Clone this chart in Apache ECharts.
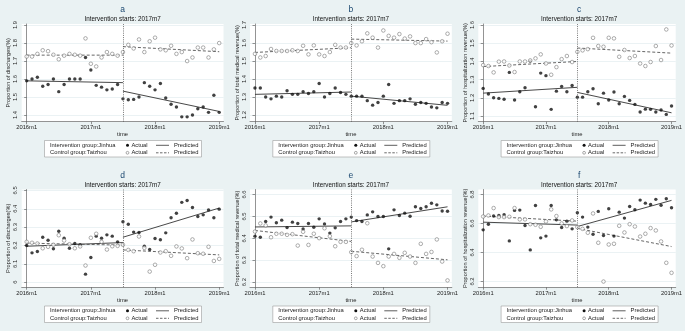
<!DOCTYPE html>
<html>
<head>
<meta charset="utf-8">
<script src="https://cdn.jsdelivr.net/npm/echarts@6/dist/echarts.min.js"></script>
<style>
    html, body { margin: 0; padding: 0; background: #eaf2f3; }
    #chart { width: 685px; height: 331px; }
</style>
</head>
<body>
<div id="chart"></div>
<script>
// months since 2016m1, tick labels
const xTickPos = [0, 12, 24, 36];
const xTickLabels = ['2016m1', '2017m1', '2018m1', '2019m1'];
const interventionMonth = 18;
// pre start, pre end, post start, post end
const predMonths = [0, 18, 18, 36];

// a: proportion of discharges
const aJinhua = [1.59, 1.60, 1.61, 1.56, 1.57, 1.60, 1.53, 1.57, 1.60, 1.60, 1.60, 1.72, 1.65, 1.565, 1.555, 1.54, 1.545, 1.57,
    1.49, 1.485, 1.487, 1.50, 1.58, 1.56, 1.54, 1.575, 1.495, 1.46, 1.445, 1.39, 1.39, 1.40, 1.435, 1.445, 1.415, 1.51, 1.415];
const aTaizhou = [1.725, 1.725, 1.74, 1.76, 1.755, 1.735, 1.71, 1.73, 1.74, 1.735, 1.73, 1.826, 1.685, 1.67, 1.72, 1.75, 1.74, 1.73,
    1.75, 1.79, 1.77, 1.82, 1.75, 1.81, 1.83, 1.765, 1.76, 1.785, 1.74, 1.75, 1.70, 1.72, 1.775, 1.775, 1.72, 1.765, 1.80];
const aPredJinhua = [1.59, 1.58, 1.533, 1.42];
const aPredTaizhou = [1.733, 1.733, 1.78, 1.752];

// b: proportion of total medical revenue
const bJinhua = [1.35, 1.35, 1.30, 1.29, 1.305, 1.30, 1.335, 1.315, 1.315, 1.33, 1.32, 1.33, 1.375, 1.30, 1.32, 1.35, 1.325, 1.315,
    1.305, 1.305, 1.305, 1.28, 1.255, 1.27, 1.305, 1.37, 1.265, 1.28, 1.28, 1.29, 1.26, 1.27, 1.265, 1.245, 1.24, 1.27, 1.265];
const bTaizhou = [1.54, 1.52, 1.528, 1.567, 1.556, 1.556, 1.556, 1.56, 1.556, 1.585, 1.537, 1.587, 1.537, 1.528, 1.55, 1.59, 1.575, 1.575,
    1.60, 1.587, 1.61, 1.654, 1.63, 1.575, 1.67, 1.64, 1.63, 1.65, 1.625, 1.637, 1.60, 1.60, 1.622, 1.605, 1.548, 1.61, 1.652];
const bPredJinhua = [1.315, 1.328, 1.305, 1.254];
const bPredTaizhou = [1.548, 1.574, 1.622, 1.611];

// c: proportion of hospitalization revenue
const cJinhua = [1.252, 1.221, 1.201, 1.197, 1.192, 1.340, 1.188, 1.234, 1.256, 1.402, 1.151, 1.336, 1.322, 1.137, 1.237, 1.263, 1.234, 1.268,
    1.204, 1.204, 1.234, 1.250, 1.168, 1.226, 1.188, 1.232, 1.168, 1.208, 1.186, 1.164, 1.122, 1.138, 1.137, 1.122, 1.133, 1.109, 1.155];
const cTaizhou = [1.380, 1.375, 1.340, 1.399, 1.400, 1.378, 1.342, 1.400, 1.400, 1.406, 1.417, 1.439, 1.389, 1.327, 1.369, 1.413, 1.430, 1.397,
    1.453, 1.461, 1.468, 1.530, 1.485, 1.481, 1.530, 1.527, 1.426, 1.463, 1.419, 1.430, 1.389, 1.375, 1.397, 1.485, 1.408, 1.576, 1.488];
const cPredJinhua = [1.226, 1.258, 1.23, 1.118];
const cPredTaizhou = [1.372, 1.40, 1.474, 1.446];

// d: proportion of discharges
const dJinhua = [6.2, 6.16, 6.167, 6.245, 6.229, 6.182, 6.278, 6.24, 6.185, 6.211, 6.204, 6.044, 6.135, 6.251, 6.24, 6.258, 6.251, 6.22,
    6.329, 6.316, 6.273, 6.271, 6.196, 6.178, 6.238, 6.231, 6.269, 6.351, 6.376, 6.435, 6.445, 6.407, 6.358, 6.367, 6.394, 6.351, 6.398];
const dTaizhou = [6.22, 6.215, 6.211, 6.185, 6.193, 6.204, 6.256, 6.227, 6.207, 6.185, 6.195, 6.091, 6.242, 6.264, 6.22, 6.178, 6.196, 6.198,
    6.204, 6.176, 6.169, 6.249, 6.187, 6.058, 6.095, 6.162, 6.169, 6.144, 6.195, 6.184, 6.131, 6.233, 6.158, 6.155, 6.193, 6.116, 6.127];
const dPredJinhua = [6.196, 6.216, 6.245, 6.404];
const dPredTaizhou = [6.213, 6.202, 6.176, 6.149];

// e: proportion of total medical revenue
const eJinhua = [6.410, 6.405, 6.477, 6.497, 6.471, 6.483, 6.449, 6.474, 6.468, 6.443, 6.468, 6.451, 6.489, 6.466, 6.424, 6.448, 6.477, 6.489,
    6.497, 6.481, 6.477, 6.507, 6.521, 6.500, 6.500, 6.352, 6.530, 6.504, 6.515, 6.501, 6.544, 6.536, 6.544, 6.560, 6.553, 6.525, 6.524];
const eTaizhou = [6.431, 6.468, 6.459, 6.405, 6.421, 6.421, 6.416, 6.419, 6.367, 6.430, 6.370, 6.421, 6.401, 6.446, 6.410, 6.364, 6.384, 6.384,
    6.337, 6.319, 6.348, 6.469, 6.317, 6.288, 6.273, 6.317, 6.329, 6.311, 6.334, 6.317, 6.288, 6.375, 6.329, 6.338, 6.395, 6.294, 6.208];
const ePredJinhua = [6.452, 6.457, 6.475, 6.544];
const ePredTaizhou = [6.436, 6.386, 6.341, 6.302];

// f: proportion of hospitalization revenue
const fJinhua = [6.556, 6.595, 6.651, 6.655, 6.660, 6.480, 6.690, 6.692, 6.586, 6.418, 6.724, 6.501, 6.513, 6.724, 6.625, 6.572, 6.616, 6.563,
    6.674, 6.644, 6.575, 6.526, 6.683, 6.517, 6.701, 6.513, 6.678, 6.637, 6.717, 6.694, 6.761, 6.740, 6.731, 6.766, 6.726, 6.770, 6.708];
const fTaizhou = [6.648, 6.655, 6.706, 6.644, 6.644, 6.646, 6.706, 6.628, 6.628, 6.595, 6.591, 6.577, 6.614, 6.697, 6.651, 6.600, 6.582, 6.621,
    6.575, 6.563, 6.536, 6.669, 6.467, 6.200, 6.455, 6.460, 6.584, 6.538, 6.595, 6.579, 6.510, 6.529, 6.568, 6.552, 6.476, 6.329, 6.260];
const fPredJinhua = [6.609, 6.589, 6.579, 6.759];
const fPredTaizhou = [6.651, 6.616, 6.566, 6.441];

const panels = [
    {tag: 'a', yName: 'Proportion of discharges(%)', min: 1.363, max: 1.906, ticks: [1.4, 1.5, 1.6, 1.7, 1.8, 1.9],
        jinhua: aJinhua, taizhou: aTaizhou, predJ: aPredJinhua, predT: aPredTaizhou},
    {tag: 'b', yName: 'Proportion of total medical revenue(%)', min: 1.163, max: 1.706, ticks: [1.2, 1.3, 1.4, 1.5, 1.6, 1.7],
        jinhua: bJinhua, taizhou: bTaizhou, predJ: bPredJinhua, predT: bPredTaizhou},
    {tag: 'c', yName: 'Proportion of hospitalization revenue(%)', min: 1.069, max: 1.606, ticks: [1.1, 1.2, 1.3, 1.4, 1.5, 1.6],
        jinhua: cJinhua, taizhou: cTaizhou, predJ: cPredJinhua, predT: cPredTaizhou},
    {tag: 'd', yName: 'Proportion of discharges(%)', min: 5.973, max: 6.505, ticks: [6, 6.1, 6.2, 6.3, 6.4, 6.5],
        jinhua: dJinhua, taizhou: dTaizhou, predJ: dPredJinhua, predT: dPredTaizhou},
    {tag: 'e', yName: 'Proportion of total medical revenue(%)', min: 6.177, max: 6.623, ticks: [6.2, 6.3, 6.4, 6.5, 6.6],
        jinhua: eJinhua, taizhou: eTaizhou, predJ: ePredJinhua, predT: ePredTaizhou},
    {tag: 'f', yName: 'Proportion of hospitalization revenue(%)', min: 6.161, max: 6.834, ticks: [6.2, 6.4, 6.6, 6.8],
        jinhua: fJinhua, taizhou: fTaizhou, predJ: fPredJinhua, predT: fPredTaizhou}
];

const font = "'Liberation Sans', Arial, sans-serif";
const colW = 228.3, rowH = 165.5;

let chart = echarts.init(document.getElementById('chart'));

function legendBox(ox, oy) {
    const y1 = oy + 145.3, y2 = oy + 152.8;
    const txt = function (x, y, s) {
        return {type: 'text', x: x, y: y, silent: true,
            style: {text: s, fontSize: 5.8, fontFamily: font, fill: '#222', verticalAlign: 'middle'}};
    };
    return [
        {type: 'rect', silent: true, shape: {x: ox + 44.5, y: oy + 140.5, width: 157, height: 16.5},
            style: {fill: '#fff', stroke: '#9a9a9a', lineWidth: 0.6}},
        txt(ox + 50, y1, 'Intervention group:Jinhua'),
        {type: 'circle', silent: true, shape: {cx: ox + 127.5, cy: y1, r: 1.5}, style: {fill: '#111'}},
        txt(ox + 131.5, y1, 'Actual'),
        {type: 'line', silent: true, shape: {x1: ox + 156, y1: y1, x2: ox + 169, y2: y1}, style: {stroke: '#333', lineWidth: 0.8}},
        txt(ox + 174, y1, 'Predicted'),
        txt(ox + 50, y2, 'Control group:Taizhou'),
        {type: 'circle', silent: true, shape: {cx: ox + 127.5, cy: y2, r: 1.4}, style: {fill: '#fff', stroke: '#6e6e6e', lineWidth: 0.6}},
        txt(ox + 131.5, y2, 'Actual'),
        {type: 'line', silent: true, shape: {x1: ox + 156, y1: y2, x2: ox + 169, y2: y2},
            style: {stroke: '#444', lineWidth: 0.8, lineDash: [2.5, 1.5]}},
        txt(ox + 174, y2, 'Predicted')
    ];
}

let grids = [], xAxes = [], yAxes = [], series = [], titles = [], graphics = [];

panels.forEach(function (p, i) {
    const ox = (i % 3) * colW;
    const oy = Math.floor(i / 3) * rowH;

    grids.push({left: ox + 21.7, top: oy + 24, width: 201.8, height: 97.7,
        show: true, backgroundColor: '#fff', borderWidth: 0});

    titles.push({
        text: p.tag,
        subtext: 'Intervention starts: 2017m7',
        left: ox + 122.6, top: oy + 5.5, textAlign: 'center', itemGap: 2, padding: 0,
        textStyle: {fontSize: 8.5, fontWeight: 'normal', color: '#1a476f', fontFamily: font},
        subtextStyle: {fontSize: 6.3, color: '#111', fontFamily: font}
    });

    xAxes.push({
        type: 'value', gridIndex: i, min: -0.93, max: 36.8,
        name: 'time', nameLocation: 'middle', nameGap: 10,
        nameTextStyle: {fontSize: 5.8, color: '#222', fontFamily: font},
        axisLine: {show: true, lineStyle: {color: '#666', width: 0.7}},
        axisTick: {show: true, customValues: xTickPos, length: 2.5, lineStyle: {color: '#666', width: 0.7}},
        axisLabel: {customValues: xTickPos, fontSize: 5.8, color: '#222', margin: 3, fontFamily: font,
            formatter: function (v) { return xTickLabels[xTickPos.indexOf(v)]; }},
        splitLine: {show: false}
    });

    yAxes.push({
        type: 'value', gridIndex: i, min: p.min, max: p.max,
        name: p.yName, nameLocation: 'middle', nameGap: 10,
        nameTextStyle: {fontSize: 5.6, color: '#222', fontFamily: font},
        axisLine: {show: true, lineStyle: {color: '#666', width: 0.7}},
        axisTick: {show: true, customValues: p.ticks, length: 2.5, lineStyle: {color: '#666', width: 0.7}},
        axisLabel: {customValues: p.ticks, rotate: 90, fontSize: 5.8, color: '#222', margin: 3, fontFamily: font,
            formatter: function (v) { return String(+v.toFixed(2)); }},
        splitLine: {show: true, lineStyle: {color: '#e3ecef', width: 0.7}}
    });

    series.push({
        name: 'Jinhua ' + p.tag, type: 'scatter', xAxisIndex: i, yAxisIndex: i,
        data: p.jinhua.map(function (v, m) { return [m, v]; }),
        symbol: 'circle', symbolSize: 3.4, itemStyle: {color: '#111'}, silent: true, z: 4,
        markLine: {
            silent: true, symbol: ['none', 'none'], label: {show: false},
            lineStyle: {color: '#555', type: [1, 1.2], width: 0.8},
            data: [{xAxis: interventionMonth}]
        }
    });
    series.push({
        name: 'Taizhou ' + p.tag, type: 'scatter', xAxisIndex: i, yAxisIndex: i,
        data: p.taizhou.map(function (v, m) { return [m, v]; }),
        symbol: 'circle', symbolSize: 3.6, silent: true, z: 4,
        itemStyle: {color: '#fff', borderColor: '#6e6e6e', borderWidth: 0.7}
    });
    [[0, 1], [2, 3]].forEach(function (seg) {
        series.push({
            type: 'line', xAxisIndex: i, yAxisIndex: i, symbol: 'none', silent: true, z: 3,
            data: seg.map(function (k) { return [predMonths[k], p.predJ[k]]; }),
            lineStyle: {color: '#333', width: 0.9}
        });
        series.push({
            type: 'line', xAxisIndex: i, yAxisIndex: i, symbol: 'none', silent: true, z: 3,
            data: seg.map(function (k) { return [predMonths[k], p.predT[k]]; }),
            lineStyle: {color: '#555', width: 0.9, type: [3, 2]}
        });
    });

    graphics = graphics.concat(legendBox(ox, oy));
});

option = {
    backgroundColor: '#eaf2f3',
    animation: false,
    title: titles,
    grid: grids,
    xAxis: xAxes,
    yAxis: yAxes,
    series: series,
    graphic: graphics
};

chart.setOption(option);
</script>
</body>
</html>
